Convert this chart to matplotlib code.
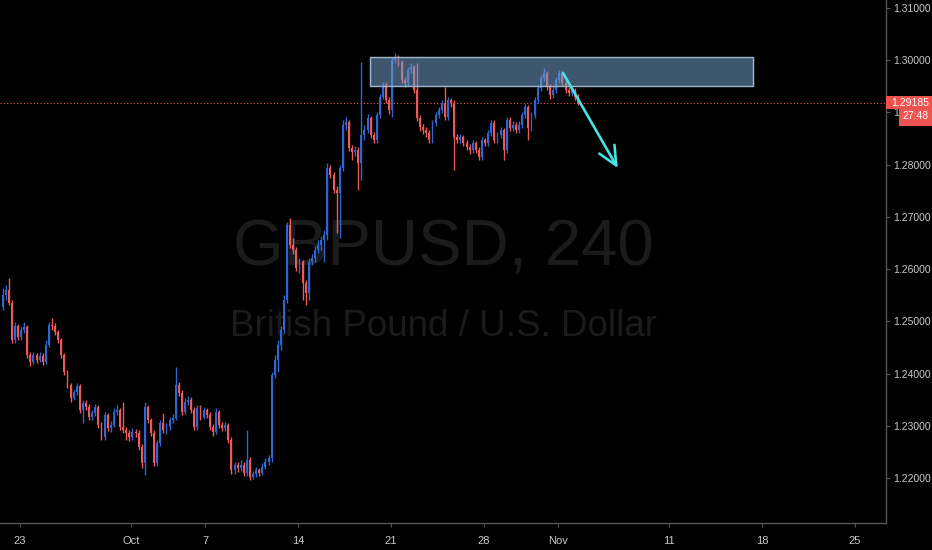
import numpy as np
import matplotlib.pyplot as plt
from matplotlib.patches import Rectangle

plt.rcParams['font.family'] = ['Liberation Sans Narrow', 'Liberation Sans', 'DejaVu Sans']

# GBPUSD 4h candles, 20 Sep -> 4 Nov 2019 (open of bar 0, then close/high/low per bar)
first_open = 1.2528
close = [1.2551, 1.2560, 1.2535, 1.2465, 1.2491, 1.2470, 1.2484, 1.2490, 1.2436, 1.2423,
         1.2436, 1.2426, 1.2434, 1.2423, 1.2455, 1.2493, 1.2491, 1.2480, 1.2465, 1.2436,
         1.2404, 1.2379, 1.2354, 1.2365, 1.2377, 1.2331, 1.2344, 1.2337, 1.2318, 1.2325,
         1.2337, 1.2302, 1.2279, 1.2321, 1.2297, 1.2302, 1.2327, 1.2331, 1.2298, 1.2293,
         1.2287, 1.2279, 1.2289, 1.2287, 1.2260, 1.2230, 1.2337, 1.2312, 1.2287, 1.2230,
         1.2268, 1.2306, 1.2293, 1.2298, 1.2312, 1.2316, 1.2379, 1.2363, 1.2327, 1.2346,
         1.2350, 1.2331, 1.2298, 1.2335, 1.2318, 1.2331, 1.2321, 1.2298, 1.2289, 1.2327,
         1.2302, 1.2297, 1.2302, 1.2274, 1.2216, 1.2226, 1.2220, 1.2226, 1.2211, 1.2235,
         1.2203, 1.2209, 1.2216, 1.2211, 1.2222, 1.2232, 1.2239, 1.2398, 1.2426, 1.2455,
         1.2484, 1.2541, 1.2684, 1.2646, 1.2637, 1.2602, 1.2614, 1.2574, 1.2555, 1.2614,
         1.2621, 1.2637, 1.2646, 1.2656, 1.2665, 1.2793, 1.2780, 1.2751, 1.2746, 1.2793,
         1.2876, 1.2881, 1.2832, 1.2824, 1.2828, 1.2803, 1.2856, 1.2866, 1.2889, 1.2856,
         1.2847, 1.2895, 1.2929, 1.2952, 1.2923, 1.2904, 1.3000, 1.3006, 1.2996, 1.2962,
         1.2956, 1.2981, 1.2986, 1.2942, 1.2889, 1.2872, 1.2866, 1.2860, 1.2847, 1.2879,
         1.2895, 1.2904, 1.2918, 1.2891, 1.2923, 1.2918, 1.2853, 1.2847, 1.2853, 1.2841,
         1.2833, 1.2828, 1.2841, 1.2828, 1.2814, 1.2847, 1.2841, 1.2860, 1.2879, 1.2847,
         1.2856, 1.2866, 1.2828, 1.2885, 1.2870, 1.2876, 1.2866, 1.2876, 1.2895, 1.2910,
         1.2870, 1.2895, 1.2923, 1.2946, 1.2965, 1.2975, 1.2948, 1.2933, 1.2942, 1.2962,
         1.2975, 1.2956, 1.2942, 1.2937, 1.2942, 1.2929, 1.29185]
high = [1.2564, 1.2570, 1.2583, 1.2541, 1.2499, 1.2495, 1.2490, 1.2499, 1.2493, 1.2442,
        1.2442, 1.2440, 1.2442, 1.2440, 1.2465, 1.2499, 1.2507, 1.2497, 1.2484, 1.2468,
        1.2440, 1.2407, 1.2382, 1.2369, 1.2382, 1.2381, 1.2350, 1.2350, 1.2342, 1.2331,
        1.2342, 1.2340, 1.2308, 1.2327, 1.2325, 1.2310, 1.2335, 1.2340, 1.2335, 1.2346,
        1.2298, 1.2293, 1.2297, 1.2295, 1.2293, 1.2266, 1.2346, 1.2340, 1.2316, 1.2293,
        1.2274, 1.2312, 1.2325, 1.2306, 1.2318, 1.2323, 1.2413, 1.2384, 1.2369, 1.2354,
        1.2358, 1.2356, 1.2337, 1.2340, 1.2340, 1.2337, 1.2335, 1.2327, 1.2304, 1.2335,
        1.2331, 1.2308, 1.2308, 1.2306, 1.2279, 1.2232, 1.2232, 1.2235, 1.2232, 1.2293,
        1.2241, 1.2214, 1.2222, 1.2220, 1.2230, 1.2239, 1.2245, 1.2404, 1.2436, 1.2465,
        1.2491, 1.2551, 1.2690, 1.2698, 1.2660, 1.2642, 1.2621, 1.2618, 1.2579, 1.2621,
        1.2629, 1.2644, 1.2656, 1.2663, 1.2675, 1.2803, 1.2799, 1.2786, 1.2759, 1.2799,
        1.2885, 1.2891, 1.2885, 1.2837, 1.2835, 1.2833, 1.2996, 1.2876, 1.2897, 1.2893,
        1.2862, 1.2900, 1.2935, 1.2958, 1.2958, 1.2929, 1.3006, 1.3013, 1.3009, 1.3000,
        1.2967, 1.2986, 1.2994, 1.2990, 1.2994, 1.2895, 1.2877, 1.2872, 1.2866, 1.2885,
        1.2900, 1.2910, 1.2923, 1.2948, 1.2929, 1.2927, 1.2923, 1.2858, 1.2858, 1.2856,
        1.2847, 1.2839, 1.2847, 1.2845, 1.2833, 1.2852, 1.2851, 1.2866, 1.2885, 1.2885,
        1.2862, 1.2872, 1.2870, 1.2891, 1.2891, 1.2883, 1.2881, 1.2883, 1.2900, 1.2916,
        1.2914, 1.2900, 1.2929, 1.2952, 1.2971, 1.2984, 1.2979, 1.2954, 1.2950, 1.2967,
        1.2981, 1.2979, 1.2962, 1.2948, 1.2948, 1.2946, 1.2935]
low = [1.2522, 1.2541, 1.2532, 1.2459, 1.2459, 1.2465, 1.2465, 1.2478, 1.2430, 1.2415,
       1.2419, 1.2421, 1.2423, 1.2417, 1.2419, 1.2451, 1.2484, 1.2474, 1.2459, 1.2430,
       1.2398, 1.2373, 1.2346, 1.2350, 1.2360, 1.2325, 1.2306, 1.2331, 1.2312, 1.2312,
       1.2319, 1.2297, 1.2274, 1.2274, 1.2291, 1.2289, 1.2298, 1.2321, 1.2293, 1.2287,
       1.2274, 1.2272, 1.2274, 1.2279, 1.2255, 1.2220, 1.2207, 1.2306, 1.2281, 1.2224,
       1.2224, 1.2262, 1.2287, 1.2285, 1.2293, 1.2306, 1.2312, 1.2358, 1.2321, 1.2323,
       1.2340, 1.2325, 1.2293, 1.2293, 1.2312, 1.2314, 1.2316, 1.2293, 1.2281, 1.2285,
       1.2297, 1.2291, 1.2291, 1.2268, 1.2209, 1.2209, 1.2212, 1.2214, 1.2205, 1.2205,
       1.2197, 1.2199, 1.2203, 1.2205, 1.2207, 1.2218, 1.2226, 1.2232, 1.2392, 1.2404,
       1.2446, 1.2478, 1.2535, 1.2641, 1.2629, 1.2597, 1.2593, 1.2541, 1.2532, 1.2541,
       1.2608, 1.2614, 1.2631, 1.2637, 1.2614, 1.2656, 1.2774, 1.2746, 1.2669, 1.2659,
       1.2788, 1.2866, 1.2826, 1.2809, 1.2816, 1.2751, 1.2770, 1.2847, 1.2860, 1.2851,
       1.2841, 1.2841, 1.2889, 1.2925, 1.2918, 1.2897, 1.2891, 1.2994, 1.2988, 1.2956,
       1.2948, 1.2950, 1.2975, 1.2937, 1.2883, 1.2864, 1.2858, 1.2853, 1.2841, 1.2841,
       1.2874, 1.2889, 1.2898, 1.2885, 1.2885, 1.2910, 1.2790, 1.2841, 1.2841, 1.2835,
       1.2828, 1.2820, 1.2822, 1.2822, 1.2809, 1.2809, 1.2835, 1.2835, 1.2855, 1.2841,
       1.2841, 1.2851, 1.2809, 1.2822, 1.2864, 1.2864, 1.2860, 1.2860, 1.2870, 1.2889,
       1.2847, 1.2864, 1.2889, 1.2918, 1.2940, 1.2960, 1.2942, 1.2925, 1.2927, 1.2937,
       1.2956, 1.2950, 1.2937, 1.2931, 1.2931, 1.2923, 1.2914]

date_labels = ["23", "Oct", "7", "14", "21", "28", "Nov", "11", "18", "25"]
trading_days = [0, 6, 10, 15, 20, 25, 29, 35, 40, 45]   # after Mon 23 Sep
first_day_bar = 5.5
bars_per_day = 6

price_ticks = [1.22, 1.23, 1.24, 1.25, 1.26, 1.27, 1.28, 1.29, 1.30, 1.31]
last_price = 1.29185
countdown = "27:48"

# drawings
zone_low, zone_high = 1.2950, 1.3005
zone_x0, zone_x1 = 118.8, 242.6
arrow_from = (181.2, 1.2975)
arrow_to = (198.9, 1.2793)

up_col = '#2f66d0'
down_col = '#ec5b56'
bg = '#000000'
axis_col = '#555555'
txt_col = '#c9c9c9'

fig = plt.figure(figsize=(9.32, 5.5), dpi=100, facecolor=bg)
ax = fig.add_axes([0, 1 - 523 / 550, 886 / 932, 523 / 550])
ax.set_facecolor(bg)

opens = np.array([first_open] + close[:-1])
closes = np.array(close)
idx = np.arange(len(closes))
up = closes >= opens
cols = np.where(up, up_col, down_col)

ax.vlines(idx, low, high, colors=cols, lw=1, zorder=2)
body_bot = np.minimum(opens, closes)
body_h = np.maximum(np.abs(closes - opens), 0.00008)
ax.bar(idx, body_h, bottom=body_bot, width=0.62, color=cols, linewidth=0, zorder=2)

# watermark
ax.text(0.5, 0.493, "GBPUSD, 240", transform=ax.transAxes, ha='center', va='baseline',
        fontsize=47, color='#1b1b1b', zorder=0)
ax.text(0.5, 0.357, "British Pound / U.S. Dollar", transform=ax.transAxes, ha='center',
        va='baseline', fontsize=26.5, color='#1b1b1b', zorder=0)

# zone + arrow
ax.add_patch(Rectangle((zone_x0, zone_low), zone_x1 - zone_x0, zone_high - zone_low,
                       facecolor=(0.45, 0.62, 0.80, 0.55), edgecolor='#9fb8d2', lw=1, zorder=3))
ax.annotate('', xy=arrow_to, xytext=arrow_from,
            arrowprops=dict(arrowstyle='->,head_length=0.9,head_width=0.42', color='#45e3e3',
                            lw=1.9, mutation_scale=15, shrinkA=0, shrinkB=0), zorder=4)

ax.axhline(last_price, color=down_col, lw=0.8, ls=(0, (1, 2)), zorder=1)

ax.set_xlim(-0.81, 285.6)
ax.set_ylim(1.21149, 1.31144)

ax.yaxis.tick_right()
ax.set_yticks(price_ticks)
ax.set_yticklabels([f"{p:.5f}" for p in price_ticks])
ax.set_xticks([first_day_bar + bars_per_day * d for d in trading_days])
ax.set_xticklabels(date_labels)
ax.tick_params(axis='y', length=3, width=0.8, color=axis_col, labelcolor=txt_col,
               labelsize=7.5, pad=2)
ax.tick_params(axis='x', length=3, width=0.8, color=axis_col, labelcolor=txt_col,
               labelsize=8, pad=6)
for s in ['top', 'left']:
    ax.spines[s].set_visible(False)
for s in ['bottom', 'right']:
    ax.spines[s].set_color(axis_col)
    ax.spines[s].set_linewidth(1)

# last price tag and countdown
ytr = ax.get_yaxis_transform()
ax.add_patch(Rectangle((1.0, last_price - 0.00125), 0.052, 0.0025, transform=ytr,
                       facecolor='#ef5350', edgecolor='none', clip_on=False, zorder=5))
ax.text(1.0056, last_price, f"{last_price:.5f}", transform=ytr, ha='left', va='center',
        fontsize=7.5, color='white', clip_on=False, zorder=6)
cd_price = last_price - 0.00267
ax.add_patch(Rectangle((1.0147, cd_price - 0.0019), 0.0373, 0.0038, transform=ytr,
                       facecolor='#ef5350', edgecolor='none', clip_on=False, zorder=5))
ax.text(1.0333, cd_price, countdown, transform=ytr, ha='center', va='center',
        fontsize=7.5, color='white', clip_on=False, zorder=6)

fig.savefig('out.png', dpi=100, facecolor=bg)
